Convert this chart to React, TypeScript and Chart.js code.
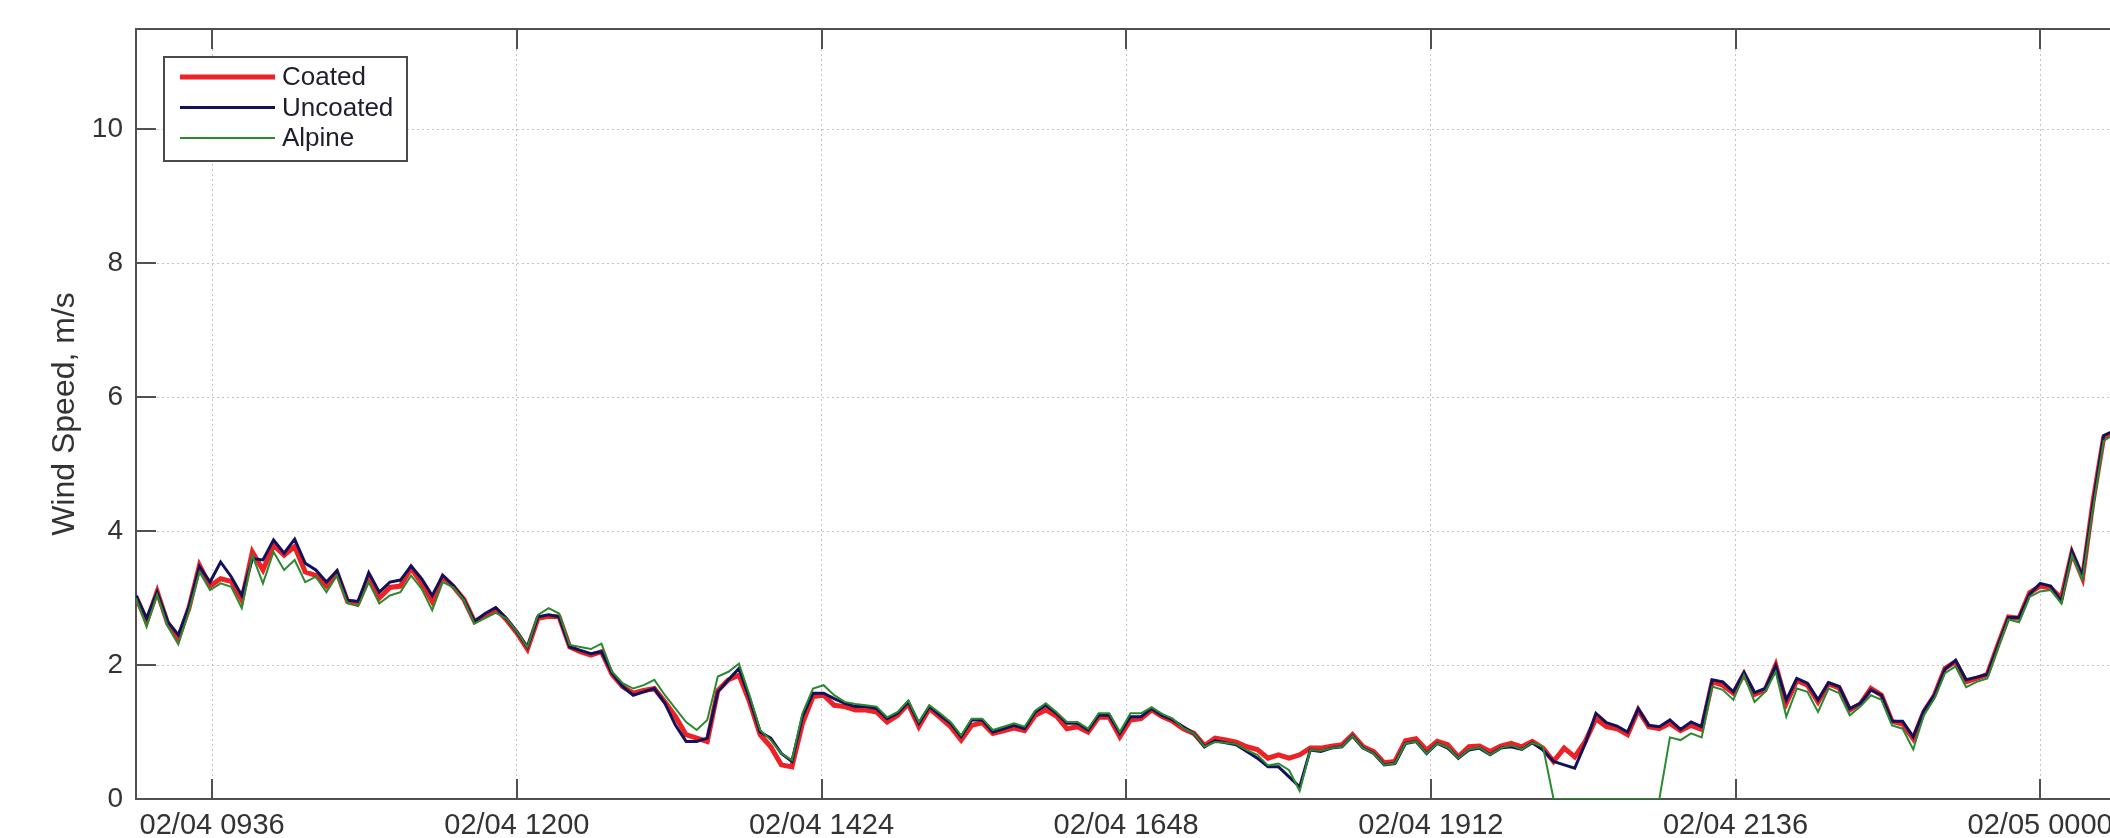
import React, { useEffect, useRef } from 'react';
import { Chart, registerables } from 'chart.js';

Chart.register(...registerables);

// sampling: one value every 5 minutes starting at 02/04 09:00 (minute 0)
const stepMinutes = 5;
const xMaxMinutes = 933;
const tickMinutes = [36, 180, 324, 468, 612, 756, 900];
const tickLabels = ['02/04 0936', '02/04 1200', '02/04 1424', '02/04 1648', '02/04 1912', '02/04 2136', '02/05 0000'];
const yTicks = [0, 2, 4, 6, 8, 10];
const seriesNames = ['Coated', 'Uncoated', 'Alpine'];

const coated = [
  3.02, 2.65, 3.10, 2.62, 2.40, 2.85, 3.49, 3.18, 3.29, 3.25,
  2.97, 3.69, 3.42, 3.79, 3.64, 3.77, 3.39, 3.34, 3.18, 3.38,
  2.95, 2.93, 3.30, 3.00, 3.16, 3.18, 3.45, 3.22, 2.95, 3.32,
  3.17, 2.98, 2.65, 2.74, 2.84, 2.68, 2.48, 2.24, 2.70, 2.73,
  2.72, 2.27, 2.20, 2.15, 2.20, 1.86, 1.68, 1.58, 1.62, 1.65,
  1.45, 1.23, 0.96, 0.91, 0.86, 1.62, 1.78, 1.85, 1.45, 0.96,
  0.78, 0.51, 0.48, 1.13, 1.53, 1.55, 1.40, 1.38, 1.33, 1.33,
  1.30, 1.15, 1.25, 1.42, 1.08, 1.35, 1.22, 1.08, 0.88, 1.10,
  1.14, 0.98, 1.02, 1.06, 1.02, 1.25, 1.33, 1.24, 1.05, 1.08,
  1.00, 1.22, 1.22, 0.93, 1.18, 1.20, 1.33, 1.23, 1.16, 1.05,
  0.98, 0.80, 0.91, 0.88, 0.85, 0.78, 0.74, 0.61, 0.66, 0.61,
  0.66, 0.76, 0.76, 0.79, 0.81, 0.96, 0.78, 0.71, 0.54, 0.56,
  0.87, 0.90, 0.73, 0.86, 0.81, 0.63, 0.78, 0.79, 0.71, 0.79,
  0.83, 0.78, 0.86, 0.76, 0.56, 0.76, 0.63, 0.86, 1.20, 1.08,
  1.05, 0.96, 1.33, 1.08, 1.05, 1.13, 1.02, 1.10, 1.04, 1.75,
  1.70, 1.58, 1.87, 1.56, 1.63, 2.00, 1.43, 1.77, 1.70, 1.45,
  1.72, 1.66, 1.33, 1.42, 1.65, 1.55, 1.16, 1.12, 0.90, 1.30,
  1.55, 1.95, 2.05, 1.75, 1.80, 1.86, 2.30, 2.72, 2.70, 3.08,
  3.18, 3.15, 3.00, 3.68, 3.30, 4.45, 5.40, 5.48,
];

const uncoated = [
  3.04, 2.70, 3.09, 2.65, 2.45, 2.87, 3.47, 3.24, 3.54, 3.32,
  3.04, 3.59, 3.57, 3.87, 3.67, 3.88, 3.52, 3.42, 3.24, 3.41,
  2.97, 2.95, 3.38, 3.09, 3.24, 3.27, 3.48, 3.29, 3.04, 3.34,
  3.19, 2.98, 2.65, 2.77, 2.86, 2.70, 2.50, 2.27, 2.72, 2.75,
  2.72, 2.27, 2.22, 2.17, 2.20, 1.88, 1.68, 1.55, 1.60, 1.65,
  1.43, 1.10, 0.86, 0.86, 0.91, 1.60, 1.78, 1.95, 1.50, 1.00,
  0.91, 0.68, 0.56, 1.23, 1.58, 1.58, 1.50, 1.43, 1.38, 1.38,
  1.35, 1.20, 1.28, 1.45, 1.13, 1.38, 1.25, 1.13, 0.93, 1.18,
  1.18, 1.00, 1.05, 1.10, 1.05, 1.30, 1.40, 1.28, 1.13, 1.13,
  1.03, 1.25, 1.25, 0.98, 1.23, 1.23, 1.35, 1.25, 1.18, 1.08,
  0.98, 0.78, 0.87, 0.84, 0.81, 0.71, 0.61, 0.48, 0.48, 0.33,
  0.18, 0.73, 0.71, 0.76, 0.78, 0.94, 0.76, 0.68, 0.51, 0.53,
  0.83, 0.86, 0.68, 0.83, 0.76, 0.61, 0.73, 0.76, 0.66, 0.76,
  0.78, 0.74, 0.84, 0.73, 0.56, 0.51, 0.46, 0.83, 1.28, 1.14,
  1.09, 1.00, 1.35, 1.10, 1.08, 1.18, 1.04, 1.15, 1.08, 1.78,
  1.75, 1.60, 1.89, 1.59, 1.65, 1.99, 1.48, 1.80, 1.73, 1.48,
  1.74, 1.68, 1.35, 1.43, 1.63, 1.55, 1.16, 1.16, 0.93, 1.32,
  1.55, 1.94, 2.07, 1.78, 1.82, 1.86, 2.29, 2.71, 2.71, 3.06,
  3.22, 3.18, 2.95, 3.70, 3.33, 4.42, 5.43, 5.50,
];

const alpine = [
  3.00, 2.57, 3.05, 2.58, 2.31, 2.80, 3.39, 3.12, 3.22, 3.17,
  2.85, 3.64, 3.22, 3.69, 3.42, 3.57, 3.24, 3.32, 3.09, 3.34,
  2.92, 2.88, 3.24, 2.92, 3.04, 3.09, 3.34, 3.14, 2.82, 3.24,
  3.16, 2.97, 2.62, 2.70, 2.78, 2.70, 2.50, 2.27, 2.75, 2.85,
  2.77, 2.30, 2.27, 2.24, 2.32, 1.90, 1.73, 1.65, 1.70, 1.78,
  1.55, 1.35, 1.15, 1.03, 1.18, 1.83, 1.90, 2.02, 1.55, 1.03,
  0.88, 0.68, 0.58, 1.28, 1.65, 1.70, 1.55, 1.45, 1.42, 1.40,
  1.38, 1.22, 1.30, 1.47, 1.15, 1.40, 1.28, 1.15, 0.95, 1.20,
  1.20, 1.03, 1.08, 1.13, 1.08, 1.32, 1.43, 1.30, 1.15, 1.15,
  1.05, 1.28, 1.28, 1.00, 1.28, 1.28, 1.37, 1.27, 1.20, 1.06,
  0.98, 0.78, 0.85, 0.84, 0.82, 0.73, 0.66, 0.50, 0.53, 0.43,
  0.12, 0.73, 0.72, 0.76, 0.78, 0.94, 0.76, 0.68, 0.51, 0.53,
  0.83, 0.86, 0.68, 0.83, 0.77, 0.61, 0.74, 0.77, 0.66, 0.76,
  0.80, 0.74, 0.84, 0.78, 0.00, 0.00, 0.00, 0.00, 0.00, 0.00,
  0.00, 0.00, 0.00, 0.00, 0.00, 0.92, 0.88, 0.98, 0.92, 1.68,
  1.63, 1.48, 1.85, 1.45, 1.60, 1.90, 1.23, 1.65, 1.60, 1.30,
  1.65, 1.58, 1.25, 1.38, 1.55, 1.48, 1.10, 1.05, 0.74, 1.25,
  1.50, 1.88, 1.98, 1.67, 1.75, 1.80, 2.25, 2.68, 2.64, 3.02,
  3.10, 3.12, 2.92, 3.64, 3.28, 4.35, 5.35, 5.45,
];

const seriesValues = [coated, uncoated, alpine];
const seriesColors = ['#ec2227', '#12125a', '#2b8a30'];
const seriesWidths = [5, 3, 2];
const seriesOrder = [3, 2, 1];

const FONT = "'Liberation Sans', Arial, Helvetica, sans-serif";
const AXIS_COLOR = '#505050';
const TEXT_COLOR = '#333333';

const matlabAxes = {
  id: 'matlabAxes',
  afterDraw(chart: any) {
    const { ctx, chartArea } = chart;
    const { left, right, top, bottom } = chartArea;
    const xs = chart.scales.x;
    const ys = chart.scales.y;
    ctx.save();
    ctx.strokeStyle = AXIS_COLOR;
    ctx.lineWidth = 2;
    ctx.setLineDash([]);
    ctx.beginPath();
    ctx.moveTo(left, top);
    ctx.lineTo(right, top);
    ctx.stroke();
    const len = 20;
    ctx.beginPath();
    xs.ticks.forEach((t: any) => {
      const px = Math.round(xs.getPixelForValue(t.value));
      ctx.moveTo(px, bottom);
      ctx.lineTo(px, bottom - len);
      ctx.moveTo(px, top);
      ctx.lineTo(px, top + len);
    });
    ys.ticks.forEach((t: any) => {
      const py = Math.round(ys.getPixelForValue(t.value));
      ctx.moveTo(left, py);
      ctx.lineTo(left + len, py);
    });
    ctx.stroke();

    // legend box (MATLAB style)
    const bx = left + 28;
    const by = top + 28;
    const bw = 243;
    const bh = 104;
    ctx.fillStyle = '#ffffff';
    ctx.fillRect(bx, by, bw, bh);
    ctx.strokeStyle = '#4a4a4a';
    ctx.lineWidth = 2;
    ctx.strokeRect(bx, by, bw, bh);
    ctx.font = `26px ${FONT}`;
    ctx.textBaseline = 'middle';
    ctx.textAlign = 'left';
    chart.data.datasets.forEach((ds: any, i: number) => {
      const yy = by + 20 + i * 30.5;
      ctx.strokeStyle = ds.borderColor;
      ctx.lineWidth = ds.borderWidth;
      ctx.beginPath();
      ctx.moveTo(bx + 16, yy);
      ctx.lineTo(bx + 111, yy);
      ctx.stroke();
      ctx.fillStyle = '#1e1e2e';
      ctx.fillText(ds.label, bx + 118, yy + 1);
    });
    ctx.restore();
  },
};

export default function App() {
  const canvasRef = useRef<HTMLCanvasElement | null>(null);

  useEffect(() => {
    const canvas = canvasRef.current;
    if (!canvas) return;
    const datasets = seriesNames.map((name, k) => ({
      label: name,
      data: seriesValues[k].map((v, i) => ({ x: i * stepMinutes, y: v })),
      borderColor: seriesColors[k],
      backgroundColor: seriesColors[k],
      borderWidth: seriesWidths[k],
      order: seriesOrder[k],
      pointRadius: 0,
      tension: 0,
      fill: false,
    }));
    const chart = new Chart(canvas, {
      type: 'line',
      data: { datasets },
      plugins: [matlabAxes],
      options: {
        animation: false,
        responsive: false,
        events: [],
        layout: { padding: { top: 29, left: 0, right: 0, bottom: 0 } },
        plugins: { legend: { display: false }, tooltip: { enabled: false } },
        scales: {
          x: {
            type: 'linear',
            min: 0,
            max: xMaxMinutes,
            afterBuildTicks: (s: any) => {
              s.ticks = tickMinutes.map((v) => ({ value: v }));
            },
            afterFit: (s: any) => {
              s.height = 39;
              s.paddingLeft = 0;
              s.paddingRight = 0;
            },
            ticks: {
              autoSkip: false,
              maxRotation: 0,
              padding: 10,
              color: TEXT_COLOR,
              font: { family: FONT, size: 29 },
              callback: (_v: any, idx: number) => tickLabels[idx] ?? '',
            },
            grid: { color: '#c4c4c4', lineWidth: 1, drawTicks: false },
            border: { color: AXIS_COLOR, width: 2, dash: [2, 3] },
          },
          y: {
            type: 'linear',
            min: 0,
            max: 11.5,
            afterBuildTicks: (s: any) => {
              s.ticks = yTicks.map((v) => ({ value: v }));
            },
            afterFit: (s: any) => {
              s.width = 136;
              s.paddingTop = 0;
              s.paddingBottom = 0;
            },
            ticks: {
              padding: 13,
              color: TEXT_COLOR,
              font: { family: FONT, size: 28 },
            },
            grid: { color: '#c4c4c4', lineWidth: 1, drawTicks: false },
            border: { color: AXIS_COLOR, width: 2, dash: [2, 3] },
            title: {
              display: true,
              text: 'Wind Speed, m/s',
              color: TEXT_COLOR,
              font: { family: FONT, size: 32 },
              padding: { top: 46, bottom: 0 },
            },
          },
        },
      } as any,
    });
    return () => chart.destroy();
  }, []);

  return (
    <div style={{ position: 'fixed', left: 0, top: 0, width: 2110, height: 838, background: '#ffffff', overflow: 'hidden' }}>
      <canvas ref={canvasRef} width={2110} height={838} style={{ display: 'block' }} />
    </div>
  );
}
